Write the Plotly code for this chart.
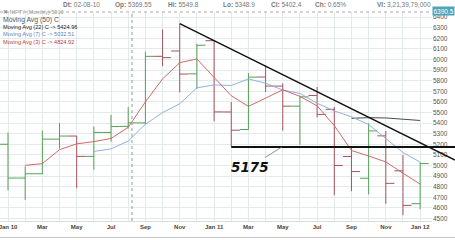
import plotly.graph_objects as go
import pandas as pd

# ---------------- data (monthly NIFTY, Dec 2009 .. Jan 2012) ----------------
months = ["Dec 09", "Jan 10", "Feb 10", "Mar 10", "Apr 10", "May 10", "Jun 10", "Jul 10",
          "Aug 10", "Sep 10", "Oct 10", "Nov 10", "Dec 10", "Jan 11", "Feb 11", "Mar 11",
          "Apr 11", "May 11", "Jun 11", "Jul 11", "Aug 11", "Sep 11", "Oct 11", "Nov 11",
          "Dec 11", "Jan 12"]
opens = [5032.0, 5200.9, 4882.0, 4922.3, 5249.1, 5278.0, 5086.3, 5312.5,
         5369.55, 5402.4, 6030.0, 6080.0, 5865.0, 6177.45, 5505.1, 5340.0,
         5835.0, 5749.5, 5560.15, 5660.0, 5530.0, 5085.0, 4880.0, 5280.0,
         4950.0, 4640.2]
highs = [5221.85, 5310.85, 4992.0, 5329.55, 5399.65, 5278.7, 5366.75, 5477.5,
         5549.8, 6073.5, 6284.1, 6338.5, 6147.2, 6181.05, 5599.25, 5872.0,
         5944.45, 5775.25, 5657.9, 5740.4, 5551.9, 5169.25, 5399.7, 5326.45,
         5099.25, 5030.0]
lows = [4943.95, 4766.0, 4675.4, 4920.0, 5160.9, 4786.45, 4961.05, 5225.6,
        5348.9, 5388.0, 5937.1, 5690.35, 5721.15, 5416.65, 5177.7, 5338.0,
        5693.25, 5328.7, 5195.9, 5453.95, 4720.0, 4758.85, 4728.3, 4639.1,
        4531.15, 4588.0]
closes = [5201.05, 4882.05, 4922.3, 5249.1, 5278.0, 5086.3, 5312.5, 5367.6,
          5402.4, 6029.95, 6017.7, 5862.7, 6134.5, 5505.9, 5333.25, 5833.75,
          5749.5, 5560.15, 5647.4, 5482.0, 5001.0, 4943.25, 5326.6, 4832.05,
          4624.3, 5018.4]
# bar colour as seen in the picture (True = green)
bar_up = [True, True, True, True, True, False, True, True,
          True, True, False, False, True, False, False, True,
          False, False, True, False, False, False, True, False,
          False, True]
tick_labels = ["Jan 10", "Mar", "May", "Jul", "Sep", "Nov", "Jan 11",
               "Mar", "May", "Jul", "Sep", "Nov", "Jan 12"]
y_ticks = list(range(4500, 6401, 100))
ma_periods = [22, 7, 3]
ma_colors = ["#4a4a4a", "#8fb2dc", "#d06868"]
support_level = 5175
trend_start = (11, 6338.5)          # Nov 2010 high
trend_slope = -80.3                 # points per month

# ---------------- figure ----------------
W, H = 455, 240
PL, PR, PT, PB = 0, 432, 12, 221     # plot area in pixels
X0, X1 = 0.534, 25.69
Y0, Y1 = 4477, 6448

def pxx(p):
    return (p - PL) / (PR - PL)

def pxy(p):
    return (PB - p) / (PB - PT)

def dx(v):
    return (v - X0) / (X1 - X0)

def dy(v):
    return (v - Y0) / (Y1 - Y0)

idx = list(range(len(months)))
s_close = pd.Series(closes)

fig = go.Figure()
GREEN, RED = "#55a055", "#a4545e"
for flag, col in [(True, GREEN), (False, RED)]:
    sel = [i for i in idx if bar_up[i] == flag]
    fig.add_trace(go.Ohlc(
        x=sel, open=[opens[i] for i in sel], high=[highs[i] for i in sel],
        low=[lows[i] for i in sel], close=[closes[i] for i in sel],
        increasing=dict(line=dict(color=col, width=1)),
        decreasing=dict(line=dict(color=col, width=1)),
        tickwidth=0.5, showlegend=False, hoverinfo="skip"))

for p, c in zip(ma_periods, ma_colors):
    ma = s_close.rolling(p).mean()
    fig.add_trace(go.Scatter(x=idx, y=ma, mode="lines",
                             line=dict(color=c, width=1), showlegend=False,
                             hoverinfo="skip"))

shapes = []
# trend line from the Nov 2010 high, running out past the axis labels
x_end_paper = pxx(W)
x_end_data = X0 + x_end_paper * (X1 - X0)
y_end = trend_start[1] + trend_slope * (x_end_data - trend_start[0])
shapes.append(dict(type="line", xref="paper", yref="paper",
                   x0=dx(trend_start[0]), y0=dy(trend_start[1]),
                   x1=x_end_paper, y1=dy(y_end),
                   line=dict(color="#111111", width=1.4)))
# support line
shapes.append(dict(type="line", xref="paper", yref="paper",
                   x0=dx(14), y0=dy(support_level), x1=x_end_paper, y1=dy(support_level),
                   line=dict(color="#111111", width=2)))
# crosshair (dotted)
shapes.append(dict(type="line", xref="paper", yref="paper",
                   x0=pxx(132), x1=pxx(132), y0=0, y1=1,
                   line=dict(color="#999999", width=1, dash="dot")))
shapes.append(dict(type="line", xref="paper", yref="paper",
                   x0=0, x1=1, y0=1, y1=1,
                   line=dict(color="#aaaaaa", width=1, dash="dot")))
# bottom border
shapes.append(dict(type="line", xref="paper", yref="paper",
                   x0=0, x1=pxx(W), y0=pxy(237.5), y1=pxy(237.5),
                   line=dict(color="#c8c8c8", width=1)))

ann = []
FONT = "Liberation Sans, Arial, sans-serif"
header = [("Dt:", "02-08-10", 61), ("Op:", "5369.55", 113), ("Hi:", "5549.8", 166),
          ("Lo:", "5348.9", 221), ("Cl:", "5402.4", 269), ("Ch:", "0.65%", 313),
          ("Vl:", "3,21,39,79,000", 375)]
for lab, val, xp in header:
    ann.append(dict(xref="paper", yref="paper", x=pxx(xp), y=pxy(4.8),
                    xanchor="left", yanchor="middle", showarrow=False,
                    text=f"<b>{lab}</b> {val}",
                    font=dict(family=FONT, size=6.5, color="#777777")))

legend_lines = [("✖ NIFTY (Monthly) 5010", "#9a9a9a", 5.5, 12),
                ("Moving Avg (50) C", "#555555", 6.8, 19.5),
                ("Moving Avg (22) C -> 5424.96", "#222222", 5.6, 27),
                ("Moving Avg (7) C -> 5032.51", "#5a86c0", 5.6, 34.5),
                ("Moving Avg (3) C -> 4824.92", "#c03838", 5.6, 42)]
for txt, col, sz, yp in legend_lines:
    ann.append(dict(xref="paper", yref="paper", x=pxx(1), y=pxy(yp),
                    xanchor="left", yanchor="middle", showarrow=False,
                    text=txt, font=dict(family=FONT, size=sz, color=col)))

# crosshair value box
ann.append(dict(xref="paper", yref="paper", x=pxx(444), y=pxy(11),
                xanchor="center", yanchor="middle", showarrow=False,
                text="6390.5", bgcolor="#4ea4ba", borderpad=0.5,
                font=dict(family=FONT, size=6.5, color="#ffffff")))

# 5175 callout
ann.append(dict(x=16.95, y=support_level, xref="x", yref="y",
                text="<b><i>5175</i></b>", showarrow=True, arrowhead=0,
                arrowwidth=0.8, arrowcolor="#777777", ax=-32, ay=20,
                font=dict(family="DejaVu Sans, Verdana, sans-serif", size=13.5,
                          color="#111111")))

tickvals = idx[1:]
ticktext = []
for k, i in enumerate(tickvals):
    ticktext.append(tick_labels[k // 2] if k % 2 == 0 else "")

fig.update_layout(
    width=W, height=H, margin=dict(l=PL, r=W - PR, t=PT, b=H - PB),
    paper_bgcolor="white", plot_bgcolor="white",
    shapes=shapes, annotations=ann, showlegend=False,
    xaxis=dict(range=[X0, X1], tickmode="array", tickvals=tickvals, ticktext=ticktext,
               showgrid=True, gridcolor="#e3eaea", gridwidth=1,
               zeroline=False, showline=True, linecolor="#d8dede",
               rangeslider=dict(visible=False), ticks="", ticklabeloverflow="allow",
               tickfont=dict(family=FONT, size=6, color="#444444", weight="bold")),
    yaxis=dict(range=[Y0, Y1], side="right", tickmode="array", tickvals=y_ticks,
               ticktext=[str(v) for v in y_ticks], showgrid=True,
               gridcolor="#e3eaea", gridwidth=1, zeroline=False, ticks="",
               tickfont=dict(family=FONT, size=6.5, color="#555555")),
)

fig.write_html("out.html")
